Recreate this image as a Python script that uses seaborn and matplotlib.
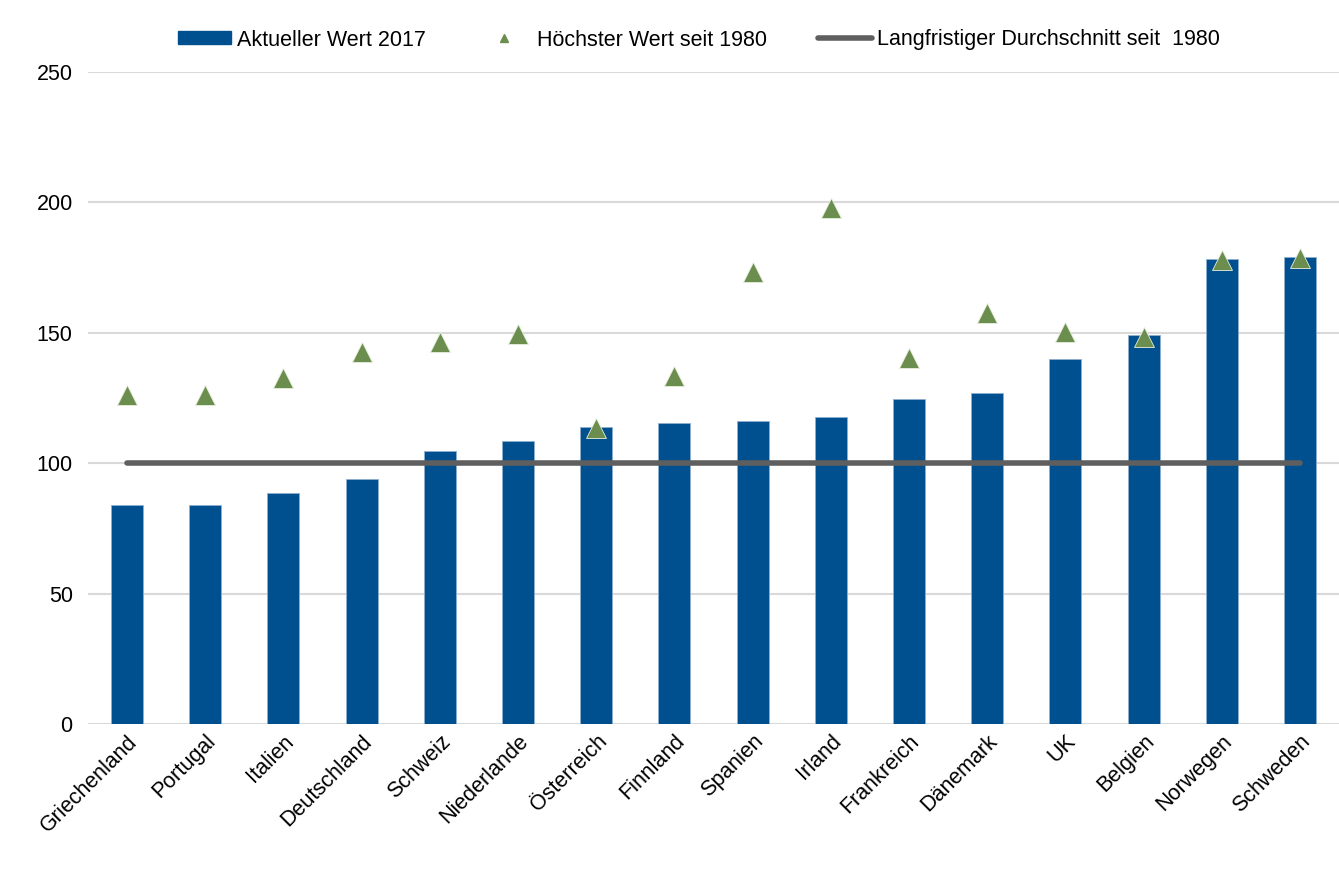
import matplotlib
matplotlib.use("Agg")
import matplotlib.pyplot as plt
import seaborn as sns
import pandas as pd
from matplotlib.lines import Line2D
from matplotlib.patches import Patch

countries = ["Griechenland", "Portugal", "Italien", "Deutschland", "Schweiz",
             "Niederlande", "Österreich", "Finnland", "Spanien", "Irland",
             "Frankreich", "Dänemark", "UK", "Belgien", "Norwegen", "Schweden"]
current_2017 = [84, 84, 88.7, 94, 104.8, 108.5, 114, 115.5, 116.2, 117.8,
                124.7, 126.9, 140, 149.2, 178.3, 179]
peak_since_1980 = [126.3, 126.3, 132.5, 142.5, 146.3, 149.5, 113.6, 133.3,
                   173.2, 197.9, 140.2, 157.7, 150.3, 148.5, 177.8, 178.6]
long_term_avg = [100] * len(countries)
y_ticks = [0, 50, 100, 150, 200, 250]

df = pd.DataFrame({"Land": countries, "Aktuell": current_2017,
                   "Hoch": peak_since_1980, "Schnitt": long_term_avg})

sns.set_theme(style="white")
plt.rcParams["font.family"] = ["Liberation Sans", "DejaVu Sans"]
plt.rcParams["text.color"] = "black"

BLUE = "#00508f"
GREEN = "#6b8e4e"
GREY = "#5f5f5f"
FS = 15.5

fig = plt.figure(figsize=(13.39, 8.69), dpi=100)
ax = fig.add_axes([88 / 1339, 1 - 724 / 869, (1339 - 88) / 1339, (724 - 72) / 869])

sns.barplot(data=df, x="Land", y="Aktuell", color=BLUE, width=0.41,
            saturation=1, edgecolor="#8fb0d0", linewidth=0.6, ax=ax, zorder=2)
sns.lineplot(x=range(len(countries)), y=df["Schnitt"], color=GREY, lw=4,
             solid_capstyle="round", ax=ax, zorder=3)
ax.plot(range(len(countries)), df["Hoch"], linestyle="none", marker="^",
        markersize=14, color=GREEN, markeredgecolor="#e8eedf",
        markeredgewidth=0.6, zorder=4)

ax.set_xlim(-0.5, len(countries) - 0.5)
ax.set_ylim(0, 250)
ax.set_yticks(y_ticks)
ax.set_yticklabels([str(t) for t in y_ticks], fontsize=FS, color="black")
ax.yaxis.grid(True, color="#d9d9d9", lw=1.5)
ax.set_axisbelow(True)
ax.set_xlabel("")
ax.set_ylabel("")
for s in ax.spines.values():
    s.set_visible(False)
ax.tick_params(axis="y", length=0, pad=11)
ax.tick_params(axis="x", length=0, pad=5)
ax.set_xticks(range(len(countries)))
ax.set_xticklabels(countries, rotation=45, ha="right", rotation_mode="anchor",
                   fontsize=FS, color="black")

handles = [
    Patch(facecolor=BLUE, edgecolor=BLUE),
    Line2D([], [], linestyle="none", marker="^", markersize=6, color=GREEN),
    Line2D([], [], color=GREY, lw=4, solid_capstyle="round"),
]
labels = ["Aktueller Wert 2017", "Höchster Wert seit 1980",
          "Langfristiger Durchschnitt seit  1980"]
fig.legend(handles, labels, loc="center", bbox_to_anchor=(699 / 1339, 1 - 40 / 869),
           ncol=3, frameon=False, fontsize=FS, handlelength=2.5,
           handleheight=0.55, handletextpad=0.25, columnspacing=2.4,
           labelcolor="black")

fig.savefig("out.png", dpi=100, facecolor="white")
